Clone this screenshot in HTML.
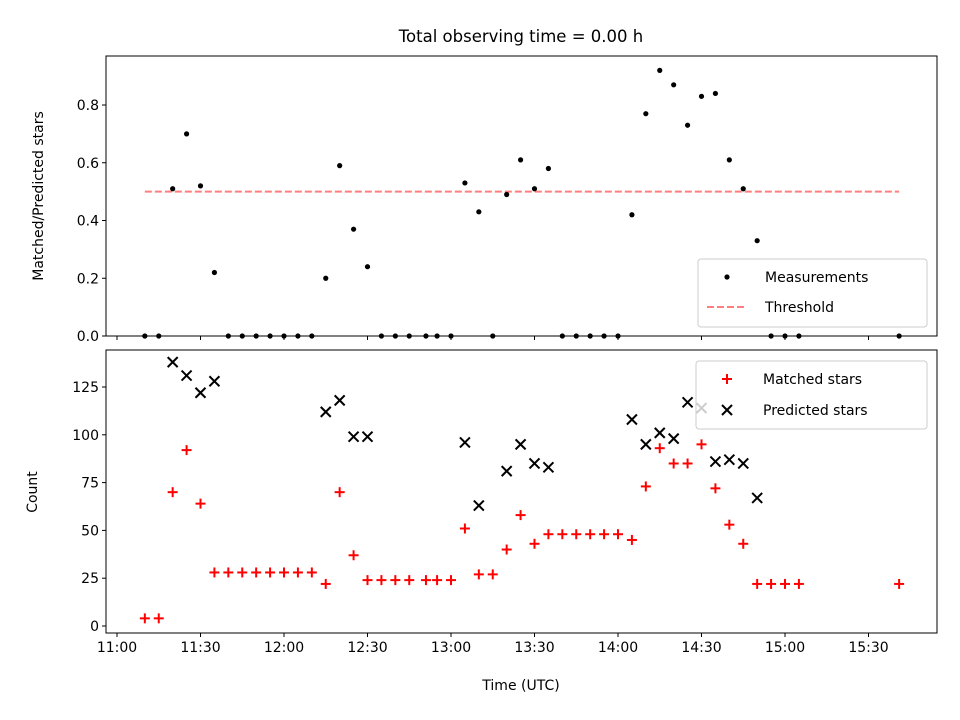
<!DOCTYPE html>
<html><head><meta charset="utf-8">
<style>
body{margin:0;background:#fff;}
svg{display:block;font-family:"DejaVu Sans","Liberation Sans",sans-serif;}
</style></head>
<body>
<svg id="chart" width="960" height="720" xmlns="http://www.w3.org/2000/svg"></svg>
<script>
const times = [10,15,20,25,30,35,40,45,50,55,60,65,70,75,80,85,90,95,100,105,111,115,120,125,130,135,140,145,150,155,160,165,170,175,180,185,190,195,200,205,210,215,220,225,230,235,240,245,281];
const ratio = [0,0,0.51,0.70,0.52,0.22,0,0,0,0,0,0,0,0.20,0.59,0.37,0.24,0,0,0,0,0,0,0.53,0.43,0,0.49,0.61,0.51,0.58,0,0,0,0,0,0.42,0.77,0.92,0.87,0.73,0.83,0.84,0.61,0.51,0.33,0,0,0,0];
const matched = [4,4,70,92,64,28,28,28,28,28,28,28,28,22,70,37,24,24,24,24,24,24,24,51,27,27,40,58,43,48,48,48,48,48,48,45,73,93,85,85,95,72,53,43,22,22,22,22,22];
const predicted = [null,null,138,131,122,128,null,null,null,null,null,null,null,112,118,99,99,null,null,null,null,null,null,96,63,null,81,95,85,83,null,null,null,null,null,108,95,101,98,117,114,86,87,85,67,null,null,null,null];
const threshold = 0.5;
const thrRange = [10,281];
const xTickMin = [0,30,60,90,120,150,180,210,240,270];
const xTickLbl = ["11:00","11:30","12:00","12:30","13:00","13:30","14:00","14:30","15:00","15:30"];
const yTopTicks = [0,0.2,0.4,0.6,0.8];
const yBotTicks = [0,25,50,75,100,125];

const NS="http://www.w3.org/2000/svg";
const svg=document.getElementById('chart');
function el(tag,attrs,parent){const e=document.createElementNS(NS,tag);for(const k in attrs)e.setAttribute(k,attrs[k]);(parent||svg).appendChild(e);return e;}
const L=106,R=937;
const FS=14;
const xs=m=>117+m*83.5/30;
const yTop=v=>336-v*288.75;
const yBot=v=>626-v*1.912;

let t=el('text',{x:521,y:42,'text-anchor':'middle','font-size':16.5});t.textContent='Total observing time = 0.00 h';


function axes(top,bot,name){
  const r=el('rect',{x:L,y:top,width:R-L,height:bot-top,fill:'none',stroke:'#000','stroke-width':1});
  
  xTickMin.forEach((m,i)=>{el('line',{x1:xs(m),x2:xs(m),y1:bot,y2:bot+4,stroke:'#000'});});
}
axes(56,336,'top-axes');axes(350,633,'bottom-axes');
xTickMin.forEach((m,i)=>{const tx=el('text',{x:xs(m),y:652,'text-anchor':'middle','font-size':FS});tx.textContent=xTickLbl[i];
  });
yTopTicks.forEach(v=>{el('line',{x1:L-4,x2:L,y1:yTop(v),y2:yTop(v),stroke:'#000'});
  const tx=el('text',{x:L-7,y:yTop(v)+5,'text-anchor':'end','font-size':FS});tx.textContent=v.toFixed(1);
  });
yBotTicks.forEach(v=>{el('line',{x1:L-4,x2:L,y1:yBot(v),y2:yBot(v),stroke:'#000'});
  const tx=el('text',{x:L-7,y:yBot(v)+5,'text-anchor':'end','font-size':FS});tx.textContent=String(v);
  });
let a=el('text',{x:521,y:690,'text-anchor':'middle','font-size':FS});a.textContent='Time (UTC)';

a=el('text',{x:0,y:0,'text-anchor':'middle','font-size':FS,transform:'translate(43,196) rotate(-90)'});a.textContent='Matched/Predicted stars';

a=el('text',{x:0,y:0,'text-anchor':'middle','font-size':FS,transform:'translate(37,492) rotate(-90)'});a.textContent='Count';


let th=el('line',{x1:xs(thrRange[0]),x2:xs(thrRange[1]),y1:yTop(threshold),y2:yTop(threshold),stroke:'#ff7f7f','stroke-width':2,'stroke-dasharray':'7,3'});

times.forEach((m,i)=>{const c=el('circle',{cx:xs(m),cy:yTop(ratio[i]),r:2.6,fill:'#000'});
  });
function plus(x,y,col,g){el('line',{x1:x-5,x2:x+5,y1:y,y2:y,stroke:col,'stroke-width':2},g);el('line',{x1:x,x2:x,y1:y-5,y2:y+5,stroke:col,'stroke-width':2},g);}
function cross(x,y,col,g){el('line',{x1:x-5,x2:x+5,y1:y-5,y2:y+5,stroke:col,'stroke-width':2},g);el('line',{x1:x-5,x2:x+5,y1:y+5,y2:y-5,stroke:col,'stroke-width':2},g);}
times.forEach((m,i)=>{const g=el('g',{});plus(xs(m),yBot(matched[i]),'#f00',g);});
times.forEach((m,i)=>{if(predicted[i]==null)return;const g=el('g',{});cross(xs(m),yBot(predicted[i]),'#000',g);});

let lg=el('g',{});
el('rect',{x:698,y:259,width:229,height:68,rx:3,fill:'#fff','fill-opacity':0.8,stroke:'#ccc'},lg);
el('circle',{cx:727,cy:277,r:2.6,fill:'#000'},lg);
let lt=el('text',{x:765,y:282,'font-size':FS},lg);lt.textContent='Measurements';
el('line',{x1:707,x2:747,y1:307,y2:307,stroke:'#ff7f7f','stroke-width':2,'stroke-dasharray':'7,3'},lg);
lt=el('text',{x:765,y:312,'font-size':FS},lg);lt.textContent='Threshold';
lg=el('g',{});
el('rect',{x:696,y:361,width:231,height:68,rx:3,fill:'#fff','fill-opacity':0.8,stroke:'#ccc'},lg);
plus(727,379,'#f00',lg);lt=el('text',{x:763,y:384,'font-size':FS},lg);lt.textContent='Matched stars';
cross(727,410,'#000',lg);lt=el('text',{x:763,y:415,'font-size':FS},lg);lt.textContent='Predicted stars';
</script>
</body></html>
